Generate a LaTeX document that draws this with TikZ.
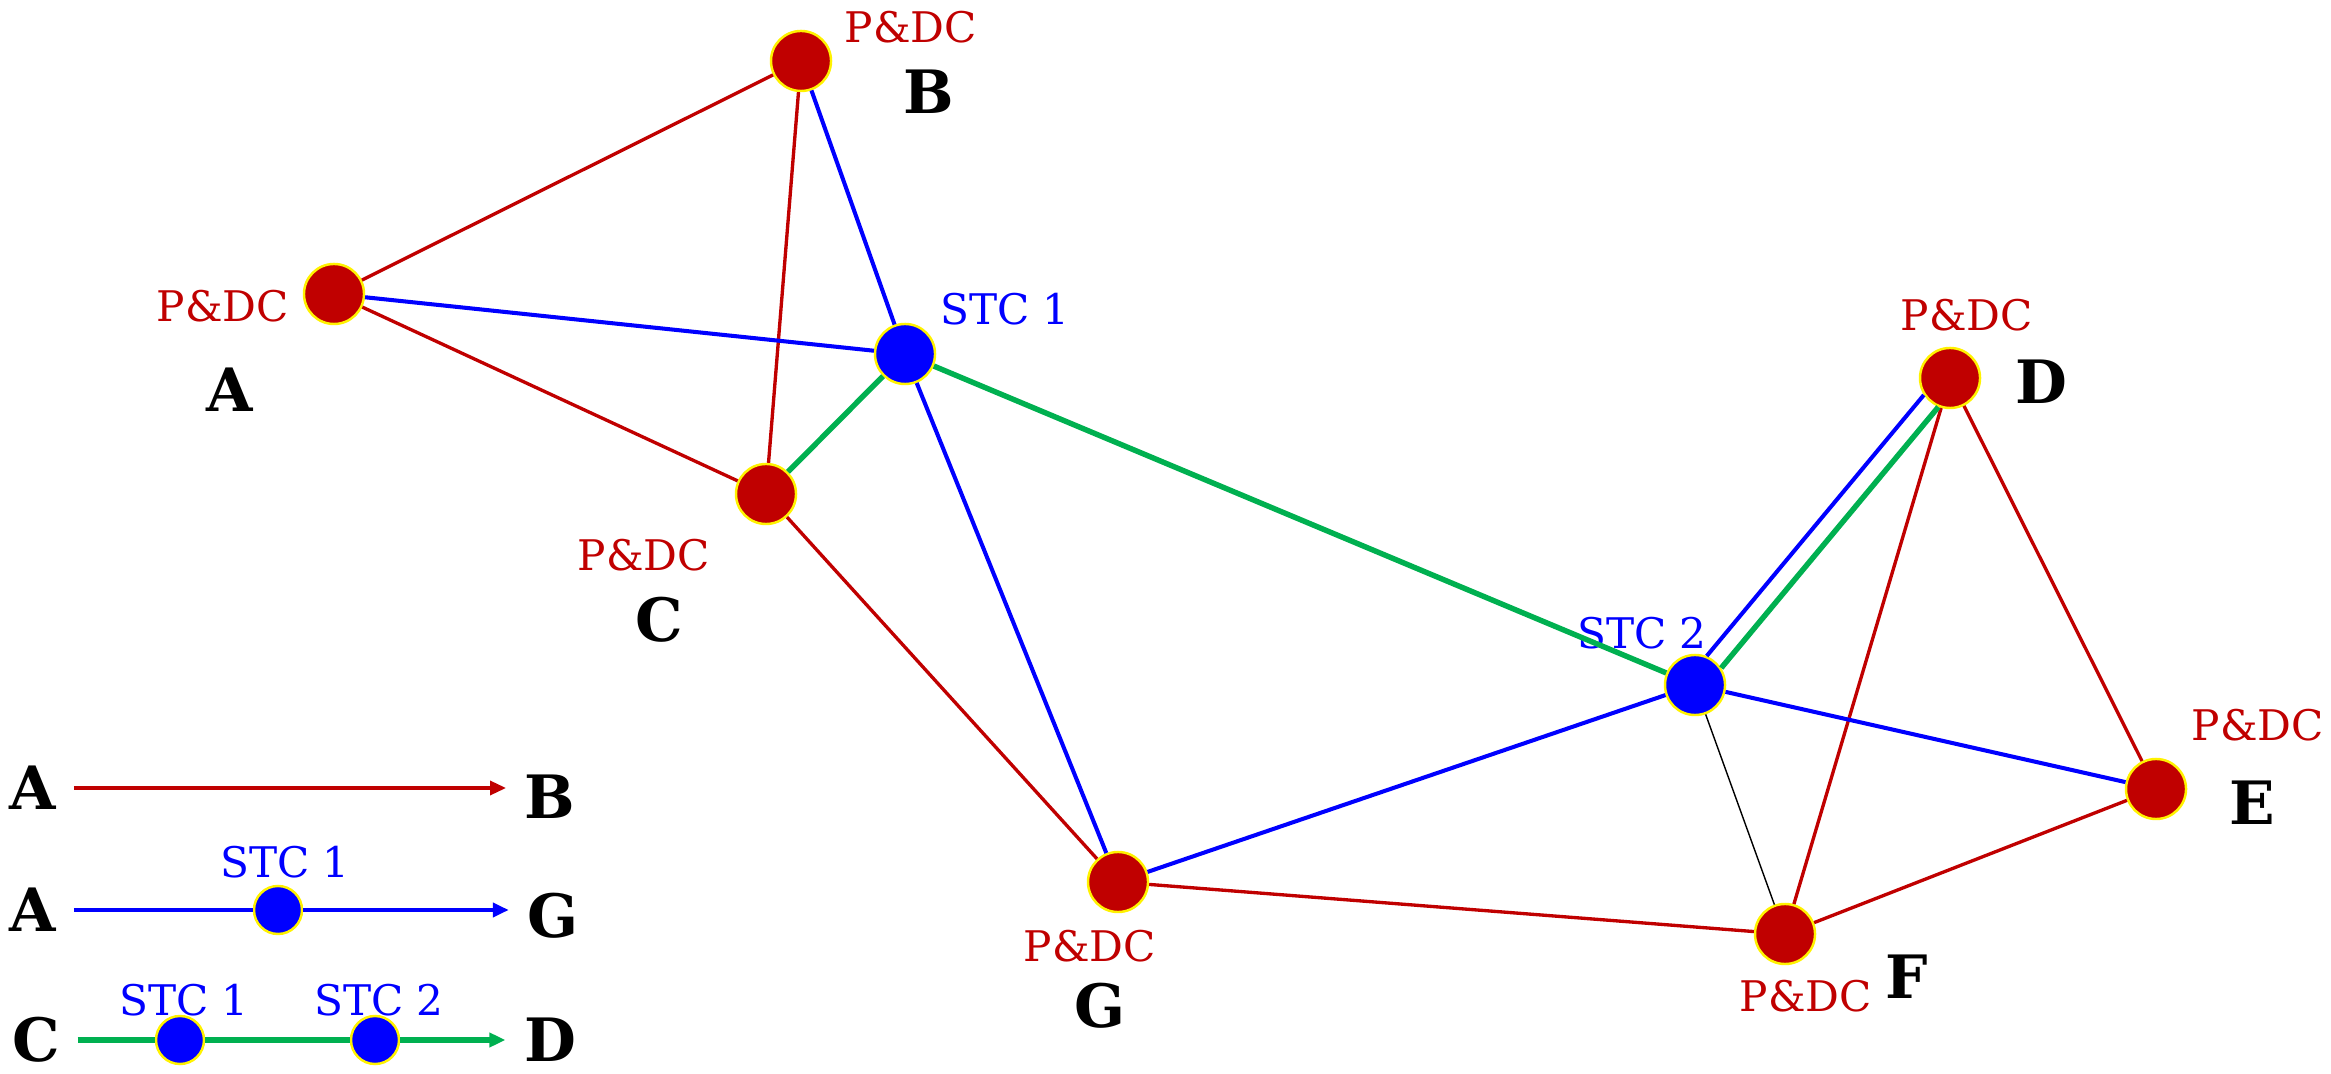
\documentclass[tikz,border=0pt]{standalone}
\usepackage{fontspec}
\setmainfont{DejaVu Serif}
\usetikzlibrary{arrows.meta}
\definecolor{pdcred}{HTML}{C00000}
\definecolor{stcblue}{HTML}{0000FF}
\definecolor{pathgreen}{HTML}{00B050}
\tikzset{
  pdc/.style={circle,fill=pdcred,draw=yellow,line width=0.7pt,minimum size=0.6cm,inner sep=0pt},
  stc/.style={pdc,fill=stcblue},
  pdctag/.style={text=pdcred,font=\fontsize{12}{12}\selectfont,inner sep=0pt},
  stctag/.style={pdctag,text=stcblue},
  letter/.style={font=\bfseries\fontsize{17}{17}\selectfont,inner sep=0pt},
  redlink/.style={draw=pdcred,line width=0.95pt},
  bluelink/.style={draw=stcblue,line width=1.15pt},
  greenlink/.style={draw=pathgreen,line width=1.55pt},
  tip/.style={-{Triangle[length=0.16cm,width=0.14cm]}}
}
\begin{document}
\begin{tikzpicture}[x=0.01cm,y=-0.01cm]
% 1 unit = 0.01cm, y runs downwards
\useasboundingbox (0,0) rectangle (2331,1074);

% P&DC and STC sites
\node[pdc] (a) at (334,294) {};
\node[pdc] (b) at (801,61) {};
\node[pdc] (c) at (766,494) {};
\node[pdc] (d) at (1950,378) {};
\node[pdc] (e) at (2156,789) {};
\node[pdc] (f) at (1785,934) {};
\node[pdc] (g) at (1118,882) {};
\node[stc] (stcone) at (905,354) {};
\node[stc] (stctwo) at (1695,685) {};

% tags
\node[pdctag] (atag) at (223,306) {P\&DC};
\node[pdctag] (btag) at (911,27) {P\&DC};
\node[pdctag] (ctag) at (644,555) {P\&DC};
\node[pdctag] (dtag) at (1967,315) {P\&DC};
\node[pdctag] (etag) at (2258,725) {P\&DC};
\node[pdctag] (ftag) at (1806,996) {P\&DC};
\node[pdctag] (gtag) at (1090,946) {P\&DC};
\node[stctag] (stconetag) at (1005,309) {STC 1};
\node[stctag] (stctwotag) at (1642,633) {STC 2};
\node[letter] (aname) at (230,390) {A};
\node[letter] (bname) at (929,92) {B};
\node[letter] (cname) at (659,620) {C};
\node[letter] (dname) at (2041,382) {D};
\node[letter] (ename) at (2252,803) {E};
\node[letter] (fname) at (1907,977) {F};
\node[letter] (gname) at (1100,1006) {G};

% links
\draw[redlink] (a) -- (b);
\draw[redlink] (a) -- (c);
\draw[redlink] (b) -- (c);
\draw[redlink] (c) -- (g);
\draw[redlink] (g) -- (f);
\draw[redlink] (f) -- (d);
\draw[redlink] (f) -- (e);
\draw[redlink] (d) -- (e);
\draw[bluelink] (a) -- (stcone);
\draw[bluelink] (b) -- (stcone);
\draw[bluelink] (stcone) -- (g);
\draw[bluelink] (g) -- (stctwo);
\draw[bluelink] (stctwo) -- (e);
\draw[greenlink] (c) -- (stcone);
\draw[greenlink] (stcone) -- (stctwo);
% STC 2 -- D twice: 50.3 = slope angle, 17.5 = asin(9/30)
\draw[bluelink] (stctwo.68) -- (d.213);
\draw[greenlink] (stctwo.33) -- (d.248);
\draw[black,line width=0.4pt] (stctwo) -- (f);

% legend
\node[letter] (legaone) at (33,788) {A};
\node[letter] (legbone) at (550,797) {B};
\draw[redlink,tip,shorten <=0.17cm,shorten >=0.18cm] (legaone.east) -- (legaone.east -| legbone.west);

\node[letter] (legatwo) at (33,910) {A};
\node[letter] (leggtwo) at (553,916) {G};
\node[stc,minimum size=0.48cm] (legstwo) at (278,910) {};
\node[stctag] (legstwotag) at (285,862) {STC 1};
\draw[bluelink,shorten <=0.17cm] (legatwo) -- (legstwo);
\draw[bluelink,tip,shorten >=0.18cm] (legstwo) -- (legstwo -| leggtwo.west);

\node[letter] (legcthree) at (36,1040) {C};
\node[letter] (legdthree) at (550,1040) {D};
\node[stc,minimum size=0.48cm] (legsone) at (180,1040) {};
\node[stc,minimum size=0.48cm] (legsthree) at (375,1040) {};
\node[stctag] (legsonetag) at (184,1000) {STC 1};
\node[stctag] (legsthreetag) at (379,1000) {STC 2};
\draw[greenlink,shorten <=0.17cm] (legcthree) -- (legsone);
\draw[greenlink] (legsone) -- (legsthree);
\draw[greenlink,tip,shorten >=0.18cm] (legsthree) -- (legdthree);
\end{tikzpicture}
\end{document}
